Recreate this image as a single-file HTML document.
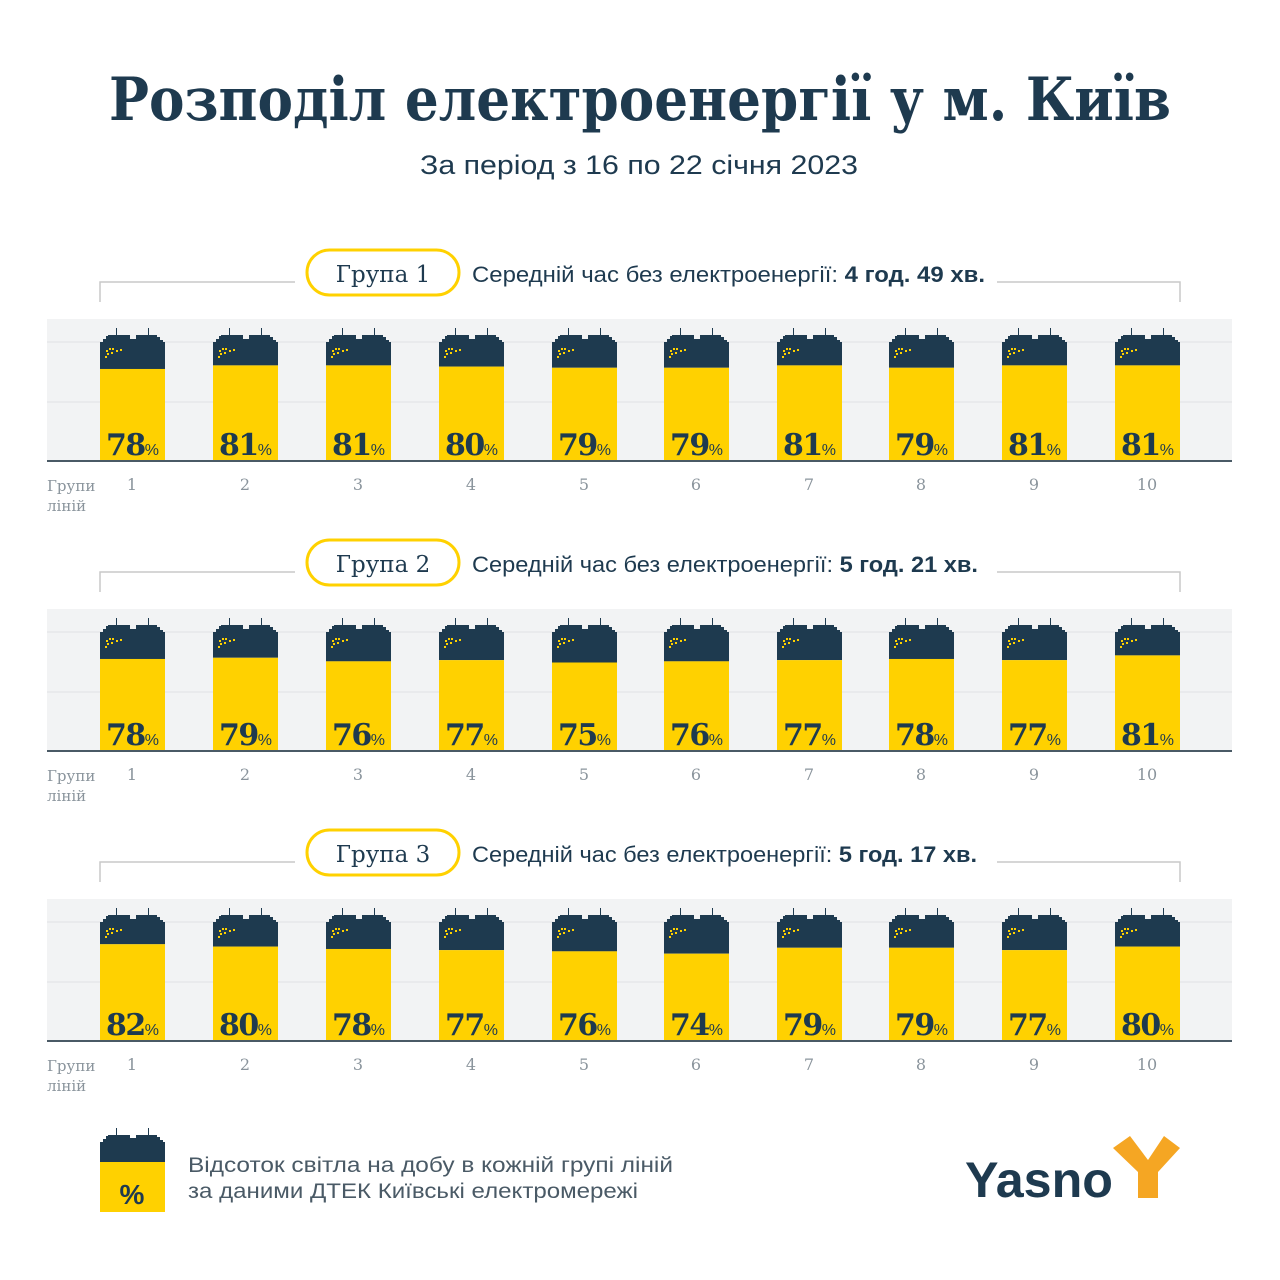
<!DOCTYPE html>
<html><head><meta charset="utf-8"><style>
html,body{margin:0;padding:0;background:#fff}
svg{display:block}
</style></head><body>
<svg id="s" width="1280" height="1280" xmlns="http://www.w3.org/2000/svg" font-family="'Liberation Sans', sans-serif">
<rect width="1280" height="1280" fill="#fff"/>
<text x="640" y="120" text-anchor="middle" font-family="'DejaVu Serif', serif" font-weight="bold" font-size="60" fill="#1e3a4f" textLength="1062" lengthAdjust="spacingAndGlyphs">Розподіл електроенергії у м. Київ</text>
<text x="420" y="174" font-size="27" fill="#1e3a4f" textLength="438" lengthAdjust="spacingAndGlyphs">За період з 16 по 22 січня 2023</text>
<g id="charts"></g>
<g transform="translate(100,1132)">
 <path d="M0,10 L3,10 L3,7 L6,7 L6,4 L8,4 L8,3 L16,3 L16,-4 L17,-4 L17,3 L30,3 L30,6 L36,6 L36,3 L48,3 L48,-4 L49,-4 L49,3 L57,3 L57,5 L60,5 L60,8 L63,8 L63,10 L65,10 L65,30 L0,30 Z" fill="#1e3a4f"/>
 <rect x="0" y="30" width="65" height="50" fill="#ffd100"/>
 <text x="32" y="72" text-anchor="middle" font-size="28" font-weight="bold" fill="#1e3a4f">%</text>
</g>
<text x="188" y="1172" font-size="21" fill="#4a5a66" textLength="485" lengthAdjust="spacingAndGlyphs">Відсоток світла на добу в кожній групі ліній</text>
<text x="188" y="1198" font-size="21" fill="#4a5a66" textLength="450" lengthAdjust="spacingAndGlyphs">за даними ДТЕК Київські електромережі</text>
<text x="965" y="1197" font-size="50" font-weight="bold" fill="#1e3a4f" textLength="148" lengthAdjust="spacingAndGlyphs">Yasno</text>
<path d="M1113,1148 L1130,1136 L1148,1160 L1164,1136 L1180,1148 L1158,1172 L1158,1198 L1138,1198 L1138,1172 Z" fill="#f5a623"/>
</svg>
<script>
const data=[[78,81,81,80,79,79,81,79,81,81],[78,79,76,77,75,76,77,78,77,81],[82,80,78,77,76,74,79,79,77,80]];
const info=[["Група 1","4 год. 49 хв.",513],["Група 2","5 год. 21 хв.",506],["Група 3","5 год. 17 хв.",505]];
const offs=[0,290,580];
const centers=[132,245,358,471,584,696,809,921,1034,1147];
let h='';
const navy='#1e3a4f';
for(let g=0;g<3;g++){
 const o=offs[g], base=461+o;
 h+=`<path d="M100,302 L100,282 L295,282 M997,282 L1180,282 L1180,302" transform="translate(0,${o})" fill="none" stroke="#c9c9c9" stroke-width="1.5"/>`;
 h+=`<rect x="307" y="${250+o}" width="152" height="45" rx="22.5" fill="#fff" stroke="#ffd100" stroke-width="3"/>`;
 h+=`<text x="383" y="${282+o}" text-anchor="middle" font-family="'DejaVu Serif',serif" font-size="23" fill="${navy}">${info[g][0]}</text>`;
 h+=`<text x="472" y="${282+o}" font-size="22" fill="${navy}" textLength="${info[g][2]}" lengthAdjust="spacingAndGlyphs">Середній час без електроенергії: <tspan font-weight="bold">${info[g][1]}</tspan></text>`;
 h+=`<rect x="47" y="${319+o}" width="1185" height="${base-319-o}" fill="#f2f3f4"/>`;
 h+=`<line x1="47" x2="1232" y1="${342+o}" y2="${342+o}" stroke="#e0e2e4"/>`;
 h+=`<line x1="47" x2="1232" y1="${402+o}" y2="${402+o}" stroke="#e0e2e4"/>`;
 for(let i=0;i<10;i++){
  const x=centers[i]-32, p=data[g][i], yt=base-p*1.18, top=342+o;
  h+=`<g transform="translate(${x},${top})"><path d="M0,0 L3,0 L3,-3 L6,-3 L6,-6 L8,-6 L8,-7 L16,-7 L16,-14 L17,-14 L17,-7 L30,-7 L30,-3 L36,-3 L36,-7 L48,-7 L48,-14 L49,-14 L49,-7 L57,-7 L57,-5 L60,-5 L60,-2 L63,-2 L63,0 L65,0 L65,${yt-top} L0,${yt-top} Z" fill="${navy}"/>`;
  [[6,8],[9,6],[12,6],[16,8],[7,11],[11,10],[20,7],[5,14]].forEach(d=>h+=`<rect x="${d[0]}" y="${d[1]}" width="2" height="2" fill="#ffd100"/>`);
  h+=`</g>`;
  h+=`<rect x="${x}" y="${yt}" width="65" height="${base-yt}" fill="#ffd100"/>`;
  h+=`<text x="${centers[i]-26}" y="${base-6}" font-family="'DejaVu Serif',serif" font-weight="bold" font-size="30" fill="${navy}" letter-spacing="-1.5">${p}<tspan font-family="'Liberation Sans',sans-serif" font-weight="normal" font-size="16" letter-spacing="0">%</tspan></text>`;
  h+=`<text x="${centers[i]}" y="${base+29}" text-anchor="middle" font-family="'DejaVu Serif',serif" font-size="16" fill="#8a949c">${i+1}</text>`;
 }
 h+=`<line x1="47" x2="1232" y1="${base}" y2="${base}" stroke="#4a5a66" stroke-width="2"/>`;
 h+=`<text x="47" y="${base+30}" font-family="'DejaVu Serif',serif" font-size="15" fill="#8a949c">Групи</text>`;
 h+=`<text x="47" y="${base+50}" font-family="'DejaVu Serif',serif" font-size="15" fill="#8a949c">ліній</text>`;
}
document.getElementById('charts').innerHTML=h;
</script>
</body></html>
